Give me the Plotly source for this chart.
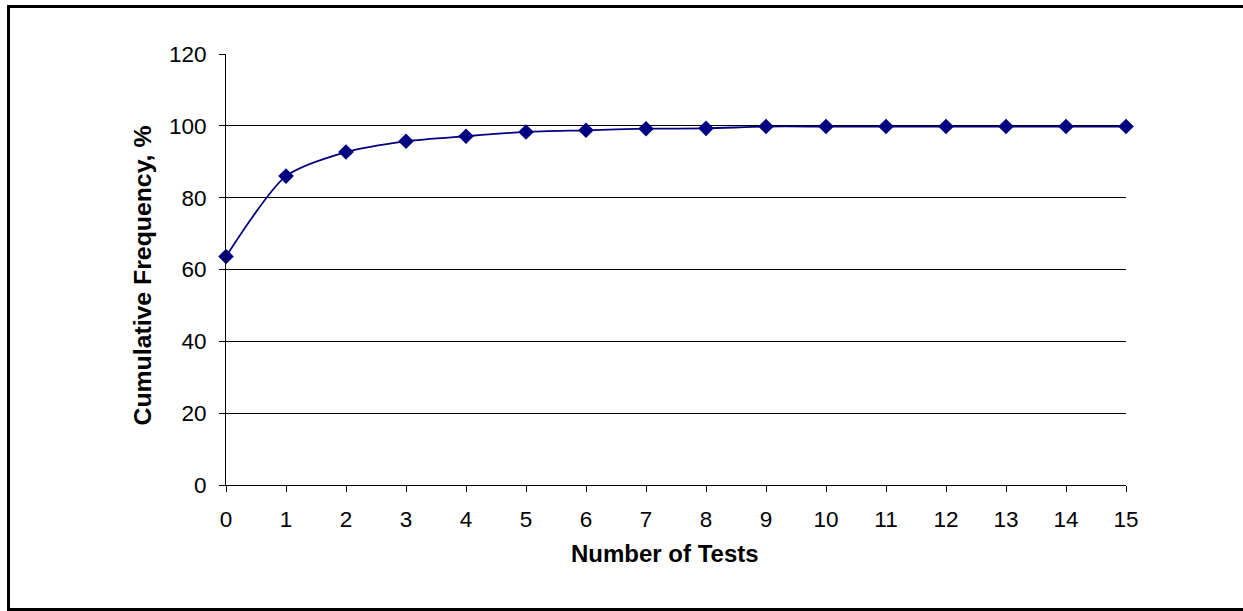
import plotly.graph_objects as go

tests = list(range(16))
cum_freq = [63.6, 86.0, 92.7, 95.7, 97.1, 98.3, 98.75, 99.2, 99.3,
            99.8, 99.8, 99.8, 99.8, 99.8, 99.8, 99.8]
x_ticks = list(range(16))
y_ticks = [0, 20, 40, 60, 80, 100, 120]
x_title = "Number of Tests"
y_title = "Cumulative Frequency, %"

W, H = 1243, 611
L, T = 226, 54
R = W - 1126
B = H - 485
pw, ph = W - L - R, H - T - B

def px_x(p):
    return (p - L) / pw

def px_y(p):
    return (H - B - p) / ph

fig = go.Figure()
fig.add_trace(go.Scatter(
    x=tests, y=cum_freq, mode="lines+markers",
    line=dict(color="#000080", width=1.8, shape="spline", smoothing=0.7),
    marker=dict(symbol="diamond", size=12, color="#000080",
                line=dict(color="#000080", width=0)),
    cliponaxis=False, showlegend=False,
))

fig.update_layout(
    width=W, height=H,
    margin=dict(l=L, r=R, t=T, b=B),
    paper_bgcolor="white", plot_bgcolor="white",
    font=dict(family="Liberation Sans, Arial, sans-serif", color="black"),
    xaxis=dict(
        range=[0, 15], tickvals=x_ticks, ticktext=[str(v) for v in x_ticks],
        showgrid=False, zeroline=False,
        showline=True, linecolor="black", linewidth=1,
        ticks="outside", ticklen=6, tickcolor="black",
        tickfont=dict(size=22.5), ticklabelstandoff=8,
    ),
    yaxis=dict(
        range=[0, 120], tickvals=y_ticks,
        showgrid=True, gridcolor="black", gridwidth=1,
        zeroline=False,
        showline=True, linecolor="black", linewidth=1,
        ticks="outside", ticklen=6, tickcolor="black",
        tickfont=dict(size=22.5), ticklabelstandoff=8,
    ),
    annotations=[
        dict(text="<b>" + x_title + "</b>", xref="paper", yref="paper",
             x=px_x(664.5), y=px_y(553), xanchor="center", yanchor="middle",
             showarrow=False, font=dict(size=24)),
        dict(text="<b>" + y_title + "</b>", xref="paper", yref="paper",
             x=px_x(141.5), y=px_y(276), xanchor="center", yanchor="middle",
             textangle=-90, showarrow=False, font=dict(size=24.8)),
    ],
    shapes=[dict(
        type="rect", xref="paper", yref="paper",
        x0=px_x(8.5), x1=px_x(1270), y0=px_y(609.5), y1=px_y(6.5),
        line=dict(color="black", width=3), fillcolor="rgba(0,0,0,0)",
        layer="below",
    )],
)

fig.write_html("out.html",
               config={"displayModeBar": False},
               post_script="document.body.style.margin='0';document.body.style.overflow='hidden';")
